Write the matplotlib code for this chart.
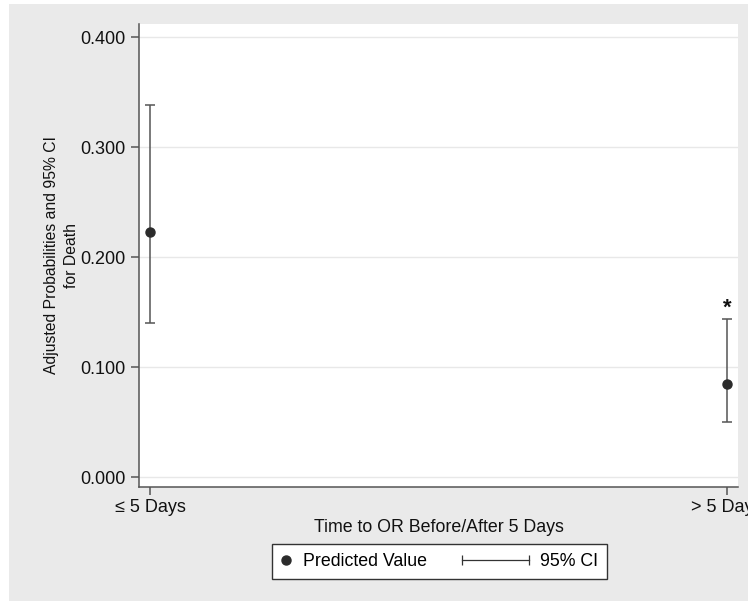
import numpy as np
import matplotlib.pyplot as plt
from matplotlib.patches import Rectangle
from matplotlib.lines import Line2D
from matplotlib.legend_handler import HandlerLine2D, HandlerBase

plt.rcParams['font.family'] = ['Liberation Sans', 'DejaVu Sans']

# data
groups = ["\u2264 5 Days", "> 5 Days"]
pred = [0.223, 0.085]
ci_low = [0.140, 0.050]
ci_high = [0.338, 0.144]
yticks = [0.0, 0.1, 0.2, 0.3, 0.4]

x = np.arange(len(groups))
pred = np.array(pred)
err = [pred - np.array(ci_low), np.array(ci_high) - pred]


class HandlerCI(HandlerBase):
    # horizontal capped line that reaches further left than the handle box
    def __init__(self, ext=30, **kw):
        super().__init__(**kw)
        self.ext = ext

    def create_artists(self, legend, orig_handle, xdescent, ydescent,
                       width, height, fontsize, trans):
        y = height / 2 - ydescent
        ln = Line2D([-xdescent - self.ext, width - xdescent], [y, y],
                    color='#333333', linewidth=0.9, marker='|',
                    markersize=7, markeredgewidth=0.9)
        ln.set_transform(trans)
        return [ln]


fig = plt.figure(figsize=(7.48, 6.03), dpi=100)
fig.patch.set_facecolor('white')
# stata-style grey graph region
bg = Rectangle((9 / 748, 2 / 603), 1 - 9 / 748, 597 / 603,
               transform=fig.transFigure, facecolor='#eaeaea',
               edgecolor='none', zorder=-10)
fig.patches.append(bg)

ax = fig.add_axes([139 / 748, 116 / 603, 599 / 748, 463 / 603])
ax.set_facecolor('white')

ax.errorbar(x, pred, yerr=err, fmt='none', ecolor='#555555', elinewidth=1.1,
            capsize=3.4, capthick=1.1, zorder=3)
ax.plot(x, pred, 'o', color='#2b2b2b', markersize=6.5, zorder=4)

# significance star over the second group
ax.annotate('*', xy=(x[1], ci_high[1]), xytext=(0, 0), textcoords='offset points',
            ha='center', va='bottom', fontsize=16, fontweight='bold',
            color='#111111')

ax.set_xlim(-0.019, 1.019)
ax.set_ylim(-0.009, 0.412)
ax.set_yticks(yticks)
ax.set_yticklabels(['%.3f' % v for v in yticks])
ax.set_xticks(x)
ax.set_xticklabels(groups)

ax.grid(axis='y', color='#e8e8e8', linewidth=1.0)
ax.set_axisbelow(True)
for s in ['top', 'right']:
    ax.spines[s].set_visible(False)
for s in ['left', 'bottom']:
    ax.spines[s].set_color('#555555')
    ax.spines[s].set_linewidth(1.1)
ax.tick_params(axis='both', colors='#555555', labelcolor='#111111',
               labelsize=13, length=6, width=1.1)
ax.tick_params(axis='x', pad=3)

ax.set_ylabel("Adjusted Probabilities and 95% CI\nfor Death", fontsize=11.3,
              color='#111111', labelpad=1, linespacing=1.45)
ax.set_xlabel("Time to OR Before/After 5 Days", fontsize=12.8, color='#111111',
              labelpad=2)

h_pt = Line2D([], [], marker='o', linestyle='none', color='#2b2b2b', markersize=6.5)
h_ci = Line2D([], [])
leg = fig.legend([h_pt, h_ci], ["Predicted Value", "95% CI"], ncol=2,
                 loc='center', bbox_to_anchor=(439.5 / 748, 41.5 / 603),
                 frameon=True, fancybox=False, framealpha=1, fontsize=12.8,
                 handlelength=0.6, columnspacing=5.17, handletextpad=0.62,
                 borderpad=0.5, borderaxespad=0,
                 handler_map={h_pt: HandlerLine2D(numpoints=1),
                              h_ci: HandlerCI(ext=41)})
leg.get_frame().set_edgecolor('#333333')
leg.get_frame().set_linewidth(1.0)
leg.get_frame().set_facecolor('white')

fig.savefig('out.png', dpi=100)
